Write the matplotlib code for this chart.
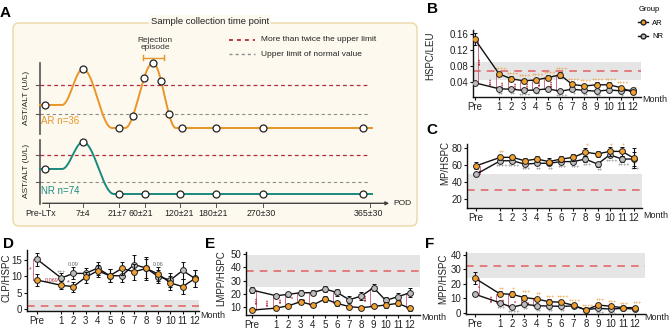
import numpy as np
import matplotlib
matplotlib.use("Agg")
import matplotlib.pyplot as plt
from matplotlib.patches import FancyBboxPatch
from matplotlib.lines import Line2D

plt.rcParams["font.family"] = ["Liberation Sans", "DejaVu Sans"]

W, H = 669, 332

# ---------------- data ----------------
month_labels = ["Pre"] + [str(i) for i in range(1, 13)]
month_pos = [-1] + list(range(1, 13))

# B: HSPC/LEU
hspc_ar = [0.147, 0.060, 0.048, 0.043, 0.045, 0.051, 0.058, 0.034, 0.030, 0.033, 0.033, 0.026, 0.014]
hspc_ar_err = [0.015, 0.005, 0.006, 0.005, 0.005, 0.006, 0.007, 0.005, 0.005, 0.006, 0.006, 0.005, 0.004]
hspc_nr = [0.038, 0.023, 0.022, 0.019, 0.020, 0.023, 0.017, 0.022, 0.019, 0.017, 0.020, 0.018, 0.020]
hspc_nr_err = [0.003, 0.003, 0.003, 0.002, 0.002, 0.003, 0.002, 0.004, 0.003, 0.003, 0.003, 0.003, 0.004]

# C: MP/HSPC
mp_ar = [59, 69, 69, 65, 67, 64, 67, 69, 75, 73, 76, 76, 68]
mp_ar_err = [4, 3, 3, 3, 3, 4, 3, 4, 5, 4, 5, 5, 12]
mp_nr = [49, 65, 65, 61, 62, 62, 64, 64, 67, 61, 72, 67, 67]
mp_nr_err = [2, 2, 2, 2, 2, 2, 2, 2, 3, 3, 3, 3, 8]

# D: CLP/HSPC
clp_ar = [8.8, 7.2, 6.8, 9.6, 11.6, 10.1, 12.3, 11.3, 12.3, 10.6, 7.9, 6.8, 9.2]
clp_ar_err = [1.8, 1.2, 1.5, 1.6, 1.8, 2.0, 2.0, 2.5, 3.0, 2.0, 2.0, 2.3, 2.5]
clp_nr = [15.1, 9.4, 10.8, 10.8, 12.4, 10.1, 10.1, 13.5, 12.4, 9.8, 8.8, 11.7, 9.3]
clp_nr_err = [2.0, 1.5, 1.8, 1.5, 2.0, 2.0, 2.0, 3.0, 3.5, 2.0, 2.0, 2.5, 2.5]

# E: LMPP/HSPC
lmpp_ar = [7.7, 9.2, 11.0, 14.0, 11.5, 16.0, 12.8, 10.3, 9.5, 10.5, 11.5, 12.8, 9.0]
lmpp_ar_err = [1.0, 1.2, 1.5, 2.0, 1.5, 2.5, 2.0, 1.5, 1.5, 1.5, 2.0, 2.0, 2.0]
lmpp_nr = [22.8, 18.5, 19.6, 20.8, 20.8, 23.6, 21.0, 15.5, 18.3, 24.6, 15.0, 17.8, 20.8]
lmpp_nr_err = [2.0, 1.5, 1.8, 2.0, 2.0, 2.5, 2.5, 2.5, 3.0, 2.5, 2.5, 2.5, 3.5]

# F: MPP/HSPC
mpp_ar = [23.9, 13.3, 12.9, 10.6, 9.6, 7.8, 7.4, 5.3, 2.1, 5.5, 4.6, 3.7, 3.7]
mpp_ar_err = [4.0, 1.5, 2.0, 1.8, 1.5, 1.5, 1.5, 1.0, 0.8, 1.5, 1.2, 1.0, 1.2]
mpp_nr = [12.9, 7.1, 3.9, 6.0, 5.0, 4.8, 4.6, 4.8, 2.3, 3.2, 2.7, 3.2, 2.7]
mpp_nr_err = [1.2, 1.0, 0.8, 1.0, 0.8, 0.8, 0.8, 0.8, 0.6, 0.6, 0.6, 0.6, 0.6]

# significance marks (between groups / AR vs Pre / NR vs Pre)
sig_b = ["****", "****", "****", "****", "****", "***", "****", "", "", "", "", "", ""]
plus_ar_b = ["", "++++", "++++", "++++", "++++", "++++", "++++", "++++", "++++", "++++", "++++", "++++", "+"]
plus_nr_b = ["", "++", "++", "++++", "++", "", "++++", "+", "++", "++", "", "+", ""]
sig_c = ["**", "", "", "", "", "", "", "", "", "", "", "", ""]
plus_ar_c = ["", "++", "", "", "", "", "", "", "+", "", "+", "+", ""]
plus_nr_c = ["", "++++", "++++", "+++", "++", "++", "+++", "+++", "+++", "++", "++++", "++++", "+++"]
sig_e = ["****", "****", "***", "*", "**", "", "*", "", "", "****", "", "", "*"]
sig_f = ["*", "****", "****", "*", "**", "", "", "", "", "", "", "", ""]
plus_ar_f = ["", "++", "+", "+++", "++", "+++", "++++", "++++", "++++", "+++", "+++", "+++", "+++"]
plus_nr_f = ["", "+++", "++++", "++", "++", "++", "++", "", "", "+++", "+++", "", ""]

# A: schematic
pod_labels = ["Pre-LTx", "7±4", "21±7", "60±21", "120±21", "180±21", "270±30", "365±30"]
pod_ticks = [49, 83, 119, 145, 180, 216, 263, 370]
pod_label_x = [41, 83, 117, 141, 179, 213, 261, 368]
ar_knots = [(40, 105), (62, 105), (83, 69), (112, 128), (125, 128), (153, 63), (176, 128), (372, 128)]
ar_pts = [45, 83, 119, 133, 144, 153, 161, 169, 182, 216, 263, 363]
nr_knots = [(40, 169), (62, 169), (83, 142), (114, 194), (372, 194)]
nr_pts = [45, 83, 119, 145, 180, 216, 263, 363]

ORANGE = "#e8952a"
TEAL = "#1b8a7e"
DARKRED = "#b32a3c"
GRAY = "#8c8c8c"
AR_FILL = "#f1a12f"
NR_FILL = "#bdbdbd"
PINK = "#c8587a"

fig = plt.figure(figsize=(W / 100, H / 100), dpi=100)


def ftext(px, py, s, **kw):
    return fig.text(px / W, 1 - py / H, s, **kw)


def px_axes(x0, y0, x1, y1):
    return fig.add_axes([x0 / W, 1 - y1 / H, (x1 - x0) / W, (y1 - y0) / H])


def smooth(knots, n=40):
    xs, ys = [], []
    for (x0, y0), (x1, y1) in zip(knots[:-1], knots[1:]):
        t = np.linspace(0, 1, n)
        xs.append(x0 + (x1 - x0) * t)
        ys.append(y0 + (y1 - y0) * (1 - np.cos(np.pi * t)) / 2)
    return np.concatenate(xs), np.concatenate(ys)


# ---------------- panel A ----------------
axa = fig.add_axes([0, 0, 1, 1])
axa.set_xlim(0, W)
axa.set_ylim(H, 0)
axa.axis("off")

box = FancyBboxPatch((13, 23), 404, 203, boxstyle="round,pad=0,rounding_size=6",
                     fc="#fdf9ee", ec="#ecd8a6", lw=1.0)
axa.add_patch(box)
axa.text(210, 22, "Sample collection time point", ha="center", va="center", fontsize=6.8,
         color="#222", bbox=dict(fc="#fdf9ee", ec="none", pad=1.5))

# legend of dashed lines
axa.plot([229, 255], [39.5, 39.5], ls=(0, (2.2, 2.2)), color=DARKRED, lw=1.3)
axa.text(261, 39.5, "More than twice the upper limit", va="center", fontsize=6, color="#222")
axa.plot([229, 255], [54.3, 54.3], ls=(0, (2.2, 2.2)), color=GRAY, lw=1.0)
axa.text(261, 54.3, "Upper limit of normal value", va="center", fontsize=6, color="#222")

# rejection episode
axa.text(155, 44, "Rejection\nepisode", ha="center", va="center", fontsize=6, color="#333",
         linespacing=1.1)
axa.plot([143, 164], [57.5, 57.5], color=ORANGE, lw=1)
axa.plot([143, 143], [55, 60], color=ORANGE, lw=1)
axa.plot([164, 164], [55, 60], color=ORANGE, lw=1)

# AR sub-panel
axa.plot([40, 40], [63, 134], color="#555", lw=1.2)
for yy, c, lw in [(84.7, DARKRED, 0.9), (114.3, GRAY, 0.8)]:
    axa.plot([40, 370], [yy, yy], ls=(0, (3, 2.5)), color=c, lw=lw)
    axa.plot([36, 40], [yy, yy], color="#555", lw=0.8)
xs, ys = smooth(ar_knots)
axa.plot(xs, ys, color=ORANGE, lw=1.4, zorder=3)
axa.plot(ar_pts, np.interp(ar_pts, xs, ys), "o", ms=5, mfc="white", mec="#222", mew=0.9, zorder=4)
axa.text(41, 121.5, "AR n=36", va="center", fontsize=7, color=ORANGE)

# NR sub-panel
axa.plot([40, 40], [140, 203.5], color="#555", lw=1.2)
for yy, c, lw in [(154.7, DARKRED, 0.9), (182.3, GRAY, 0.8)]:
    axa.plot([40, 370], [yy, yy], ls=(0, (3, 2.5)), color=c, lw=lw)
    axa.plot([36, 40], [yy, yy], color="#555", lw=0.8)
xs, ys = smooth(nr_knots)
axa.plot(xs, ys, color=TEAL, lw=1.4, zorder=3)
axa.plot(nr_pts, np.interp(nr_pts, xs, ys), "o", ms=5, mfc="white", mec="#222", mew=0.9, zorder=4)
axa.text(41, 191.5, "NR n=74", va="center", fontsize=7, color=TEAL)

for yc in [98, 171]:
    axa.text(27, yc, "AST/ALT (U/L)", rotation=90, ha="center", va="center", fontsize=6, color="#222")

# POD axis
axa.annotate("", xy=(392, 203.3), xytext=(40, 203.3),
             arrowprops=dict(arrowstyle="-|>", color="#444", lw=1.0, mutation_scale=5))
axa.text(393, 203.3, "POD", va="center", fontsize=6, color="#222")
for tx in pod_ticks:
    axa.plot([tx, tx], [203.3, 206.5], color="#555", lw=0.7)
for lx, lab in zip(pod_label_x, pod_labels):
    axa.text(lx, 213.5, lab, ha="center", va="center", fontsize=6.3, color="#222")

ftext(5, 13, "A", fontsize=11, fontweight="bold", ha="center", va="center")


# ---------------- panels B-F ----------------
def draw_panel(box_px, xlim, ylim, yticks, ytlabels, ar, ar_err, nr, nr_err,
               band, red, sig=None, plus_ar=None, plus_nr=None):
    ax = px_axes(*box_px)
    ax.set_xlim(*xlim)
    ax.set_ylim(*ylim)
    ax.patch.set_alpha(0)
    ax.axhspan(band[0], band[1], color="#e5e5e5", lw=0, zorder=0)
    ax.axhline(red, color="#e06060", ls=(0, (5, 4)), lw=1.1, zorder=1)
    ax.errorbar(month_pos, nr, yerr=nr_err, fmt="-o", color="#111", lw=1.0, ms=4.2,
                mfc=NR_FILL, mec="#222", mew=0.7, elinewidth=0.8, capsize=1.2, zorder=3)
    ax.errorbar(month_pos, ar, yerr=ar_err, fmt="-o", color="#111", lw=1.0, ms=4.2,
                mfc=AR_FILL, mec="#222", mew=0.7, elinewidth=0.8, capsize=1.2, zorder=4)
    span = ylim[1] - ylim[0]
    if sig is not None:
        for x, a, n, s in zip(month_pos, ar, nr, sig):
            if s:
                lo, hi = min(a, n), max(a, n)
                if x < 0:
                    xx, tx, ha = x + 0.3, x + 0.33, "left"
                else:
                    xx, tx, ha = x - 0.3, x - 0.33, "right"
                ax.plot([xx, xx], [lo, hi], color=PINK, lw=0.6, zorder=2)
                ax.text(tx, (lo + hi) / 2, s, rotation=90, ha=ha, va="center",
                        fontsize=3.5, color=DARKRED, fontweight="bold")
    if plus_ar is not None:
        for x, a, e, s in zip(month_pos, ar, ar_err, plus_ar):
            if s:
                ax.text(x + 0.15, a + e + 0.01 * span, s, ha="center", va="bottom",
                        fontsize=4, color=ORANGE)
    if plus_nr is not None:
        for x, n, e, s in zip(month_pos, nr, nr_err, plus_nr):
            if s:
                ax.text(x + 0.15, n - e - 0.01 * span, s, ha="center", va="top",
                        fontsize=4, color="#777")
    ax.set_xticks(month_pos)
    ax.set_xticklabels(month_labels)
    ax.set_yticks(yticks)
    ax.set_yticklabels(ytlabels)
    for sp in ["top", "right"]:
        ax.spines[sp].set_visible(False)
    for sp in ["left", "bottom"]:
        ax.spines[sp].set_linewidth(1.0)
        ax.spines[sp].set_color("#111")
    ax.tick_params(labelsize=7, length=2.5, width=0.8, pad=1, colors="#111", labelcolor="#222")
    return ax


axb = draw_panel((473, 30, 641, 97), (-1.15, 12.65), (0.0025, 0.17),
                 [0.04, 0.08, 0.12, 0.16], ["0.04", "0.08", "0.12", "0.16"],
                 hspc_ar, hspc_ar_err, hspc_nr, hspc_nr_err, (0.045, 0.09), 0.068,
                 sig_b, plus_ar_b, plus_nr_b)
axc = draw_panel((467, 144, 642, 208), (-1.74, 12.65), (9.4, 84.7),
                 [20, 40, 60, 80], ["20", "40", "60", "80"],
                 mp_ar, mp_ar_err, mp_nr, mp_nr_err, (9.4, 49), 30.5,
                 sig_c, plus_ar_c, plus_nr_c)
axd = draw_panel((27, 250, 199, 311), (-1.82, 12.35), (-0.6, 17.9),
                 [0, 5, 10, 15], ["0", "5", "10", "15"],
                 clp_ar, clp_ar_err, clp_nr, clp_nr_err, (-0.6, 2.7), 1.0)
axe = draw_panel((246, 252, 420, 315), (-1.49, 12.82), (4, 51.5),
                 [10, 20, 30, 40, 50], ["10", "20", "30", "40", "50"],
                 lmpp_ar, lmpp_ar_err, lmpp_nr, lmpp_nr_err, (25, 49), 37,
                 sig_e)
axf = draw_panel((466, 252, 645, 314), (-1.73, 12.8), (-0.7, 42),
                 [0, 10, 20, 30, 40], ["0", "10", "20", "30", "40"],
                 mpp_ar, mpp_ar_err, mpp_nr, mpp_nr_err, (24, 41.5), 32.6,
                 sig_f, plus_ar_f, plus_nr_f)

# extra notes in D
axd.plot([-1.35, -1.35], [clp_ar[0], clp_nr[0]], color=PINK, lw=0.6)
axd.text(-1.45, 12, "*", ha="right", va="center", fontsize=5, color=DARKRED)
axd.text(0.2, 7.9, "0.069", ha="center", va="bottom", fontsize=4, color=DARKRED)
axd.text(1.6, 8.0, "*", ha="center", va="center", fontsize=5, color=DARKRED)
axd.text(2.0, 12.6, "0.09", ha="center", va="bottom", fontsize=4, color="#666")
axd.text(9.0, 12.6, "0.06", ha="center", va="bottom", fontsize=4, color="#666")
axd.text(1.0, 10.6, "+++", ha="center", va="bottom", fontsize=4, color="#777")

# Month labels
for px, py in [(642, 100), (643, 216), (200, 315), (421, 318), (644, 317)]:
    ftext(px, py, "Month", fontsize=6.5, va="center", ha="left", color="#222")

# y labels
for px, py, s in [(430, 56, "HSPC/LEU"), (445, 163, "MP/HSPC"), (7, 278, "CLP/HSPC"),
                  (221, 278, "LMPP/HSPC"), (443, 279, "MPP/HSPC")]:
    ftext(px, py, s, rotation=90, fontsize=7, ha="center", va="center", color="#222")

# panel letters
for px, py, s in [(432, 9, "B"), (432, 130, "C"), (8, 244, "D"), (210, 244, "E"), (430, 244, "F")]:
    ftext(px, py, s, fontsize=11, fontweight="bold", ha="center", va="center")

# legend for B-F
handles = [Line2D([], [], color="#111", lw=1, marker="o", ms=3.5, mfc=AR_FILL, mec="#222"),
           Line2D([], [], color="#111", lw=1, marker="o", ms=3.5, mfc=NR_FILL, mec="#222")]
leg = fig.legend(handles, ["AR", "NR"], title="Group", loc="upper left",
                 bbox_to_anchor=(633 / W, 1 - 1 / H), frameon=False, fontsize=5.5,
                 title_fontsize=5.5, handlelength=1.3, handletextpad=0.5, labelspacing=0.8,
                 borderpad=0.2)
leg._legend_box.align = "left"

fig.savefig("out.png", dpi=100)
